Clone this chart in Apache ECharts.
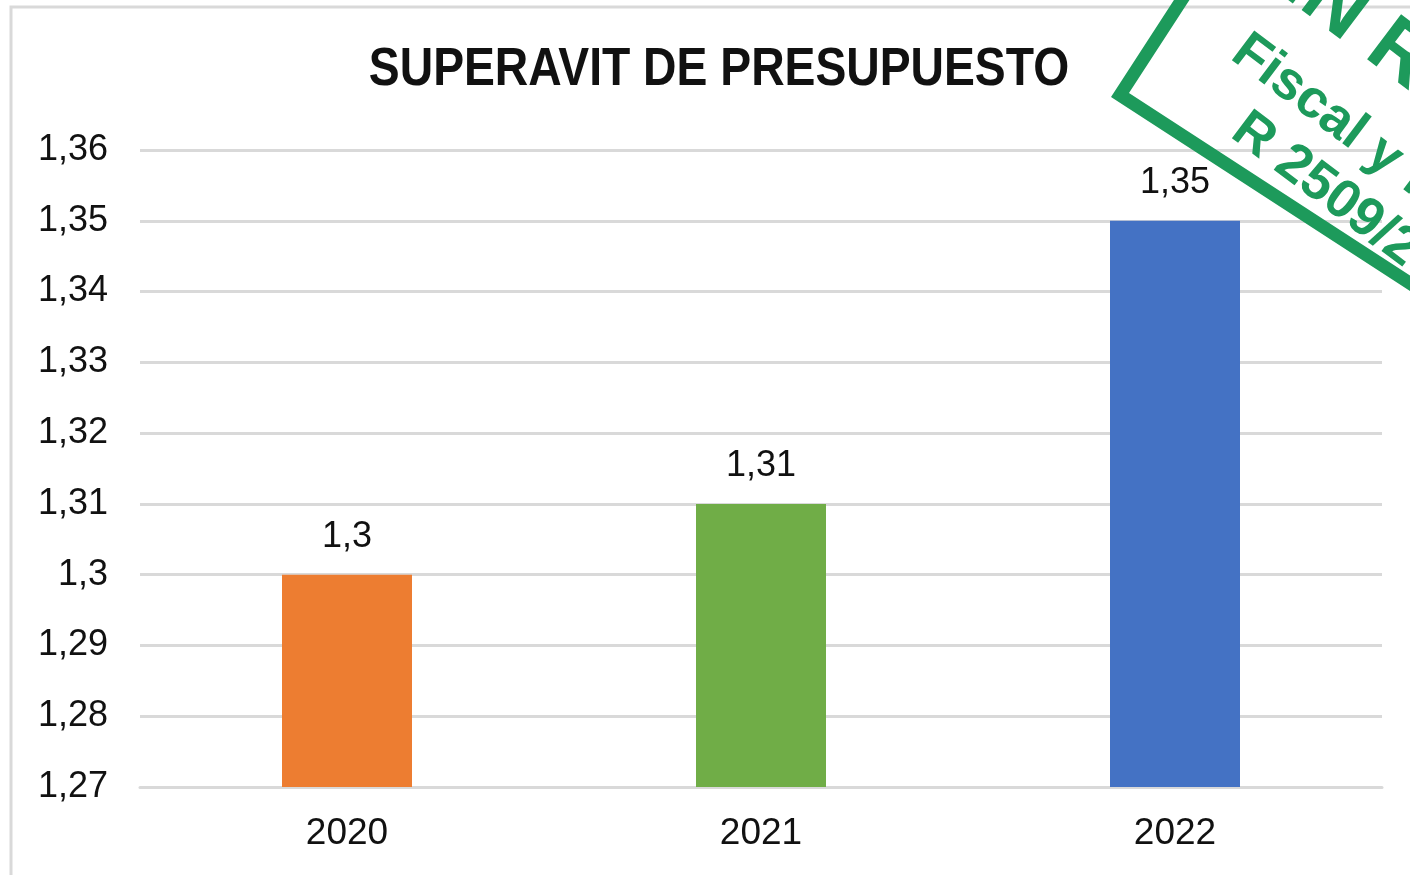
<!DOCTYPE html>
<html>
<head>
<meta charset="utf-8">
<title>Superavit de presupuesto</title>
<script src="https://cdn.jsdelivr.net/npm/echarts@6/dist/echarts.min.js"></script>
<style>
	html, body { margin: 0; padding: 0; background: #fff; }
	#chart { width: 1410px; height: 875px; }
</style>
</head>
<body>
<div id="chart"></div>
<script>
// datos
var years = ['2020', '2021', '2022'];
var superavit = [1.30, 1.31, 1.35];
var barColors = ['#ED7D31', '#70AD47', '#4472C4'];
var yMin = 1.27, yMax = 1.36, yStep = 0.01;

var titleText = 'SUPERAVIT DE PRESUPUESTO';

// textos del sello
var stampLines = ['SIN RESERVAS', 'Fiscal y financiera', 'R 2509/2022'];
var stampGreen = '#1D9A5B';

var baseFont = '"Liberation Sans", Arial, sans-serif';

function formatValue(v) {
	return parseFloat(v.toFixed(2)).toString().replace('.', ',');
}

var barData = [];
for (var i = 0; i < superavit.length; i++) {
	barData.push({ value: superavit[i], itemStyle: { color: barColors[i] } });
}

var textRot = -37 * Math.PI / 180;
function stampText(txt, x, y, size) {
	return {
		type: 'text',
		x: x, y: y,
		rotation: textRot,
		z: 101,
		silent: true,
		style: {
			text: txt, fill: stampGreen, fontSize: size, fontWeight: 'bold',
			fontFamily: baseFont, align: 'left', verticalAlign: 'middle'
		}
	};
}

var chart = echarts.init(document.getElementById('chart'));

var option = {
	animation: false,
	backgroundColor: '#fff',
	grid: { left: 140, right: 28, top: 150, bottom: 88 },
	xAxis: {
		type: 'category',
		data: years,
		axisTick: { show: false },
		axisLine: { lineStyle: { color: '#d9d9d9', width: 3 } },
		axisLabel: {
			margin: 28,
			color: '#111',
			fontSize: 37,
			fontFamily: baseFont
		}
	},
	yAxis: {
		type: 'value',
		min: yMin,
		max: yMax,
		interval: yStep,
		axisLine: { show: false },
		axisTick: { show: false },
		splitLine: { lineStyle: { color: '#d9d9d9', width: 3 } },
		axisLabel: {
			margin: 32,
			color: '#111',
			fontSize: 36,
			fontFamily: baseFont,
			formatter: formatValue
		}
	},
	series: [{
		type: 'bar',
		data: barData,
		barWidth: 130,
		label: {
			show: true,
			position: 'top',
			distance: 20,
			color: '#111',
			fontSize: 36,
			fontFamily: baseFont,
			formatter: function (p) { return formatValue(p.value); }
		}
	}],
	graphic: [
		{
			// marco exterior del grafico
			type: 'rect',
			shape: { x: 11, y: 7, width: 1420, height: 900 },
			style: { fill: 'none', stroke: '#d9d9d9', lineWidth: 3 },
			silent: true,
			z: 0
		},
		{
			// titulo, letra estrecha
			type: 'text',
			x: 719, y: 70,
			scaleX: 0.857,
			silent: true,
			style: {
				text: titleText, fill: '#111', fontSize: 54, fontWeight: 'bold',
				fontFamily: baseFont, align: 'center', verticalAlign: 'middle'
			}
		},
		{
			// sello verde
			type: 'rect',
			x: 1120, y: 95,
			rotation: -33 * Math.PI / 180,
			z: 100,
			silent: true,
			shape: { x: 0, y: -300, width: 600, height: 300 },
			style: { fill: 'none', stroke: stampGreen, lineWidth: 13 }
		},
		stampText(stampLines[0], 1249, -58, 82),
		stampText(stampLines[1], 1238, 46, 54),
		stampText(stampLines[2], 1238, 124, 54)
	]
};

chart.setOption(option);
</script>
</body>
</html>
